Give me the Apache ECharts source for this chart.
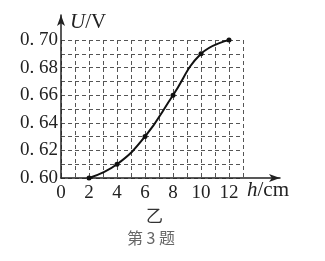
<!DOCTYPE html>
<html><head><meta charset="utf-8">
<script src="https://cdn.jsdelivr.net/npm/echarts@6/dist/echarts.min.js"></script>
<style>html,body{margin:0;padding:0;background:#fff;}#c{width:325px;height:261px;}</style>
</head><body><div id="c"></div>
<script>
var hValues = [2, 4, 6, 8, 10, 12];
var uValues = [0.60, 0.61, 0.63, 0.66, 0.69, 0.70];
var xTickLabels = ['0', '2', '4', '6', '8', '10', '12'];
var yTickLabels = ['0. 60', '0. 62', '0. 64', '0. 66', '0. 68', '0. 70'];
var xAxisName = 'h';
var xAxisUnit = '/cm';
var yAxisName = 'U';
var yAxisUnit = '/V';
var subLabel = '乙';
var caption = '第 3 题';

var serif = '"Liberation Serif", "DejaVu Serif", serif';
var chart = echarts.init(document.getElementById('c'));
var data = hValues.map(function (h, i) { return [h, uValues[i]]; });

chart.setOption({
  animation: false,
  backgroundColor: '#fff',
  grid: [
    { left: 61, top: 40, width: 182, height: 138 },
    { left: 61, top: 15, width: 219, height: 163 }
  ],
  xAxis: [
    {
      gridIndex: 0, type: 'value', min: 0, max: 13, interval: 1,
      axisLine: { show: false }, axisTick: { show: false },
      splitLine: { show: true, lineStyle: { color: '#555', type: [4, 3], width: 1 } },
      axisLabel: {
        margin: 6, color: '#222', fontFamily: serif, fontSize: 19,
        formatter: function (v) {
          var k = Math.round(v);
          if (k % 2 !== 0) return '';
          return xTickLabels[k / 2] || '';
        }
      }
    },
    {
      gridIndex: 1, type: 'value', min: 0, max: 15.64,
      axisLine: { show: true, symbol: ['none', 'arrow'], symbolSize: [6, 11], lineStyle: { color: '#222', width: 1.5 } },
      axisTick: { show: false }, axisLabel: { show: false }, splitLine: { show: false }
    }
  ],
  yAxis: [
    {
      gridIndex: 0, type: 'value', min: 0.6, max: 0.7, interval: 0.01,
      axisLine: { show: false }, axisTick: { show: false },
      splitLine: { show: true, lineStyle: { color: '#555', type: [4, 3], width: 1 } },
      axisLabel: {
        margin: 3, color: '#222', fontFamily: serif, fontSize: 19,
        formatter: function (v) {
          var k = Math.round((v - 0.6) * 100);
          if (k % 2 !== 0) return '';
          return yTickLabels[k / 2] || '';
        }
      }
    },
    {
      gridIndex: 1, type: 'value', min: 0.6, max: 0.718,
      axisLine: { show: true, symbol: ['none', 'arrow'], symbolSize: [6, 11], lineStyle: { color: '#222', width: 1.5 } },
      axisTick: { show: false }, axisLabel: { show: false }, splitLine: { show: false }
    }
  ],
  series: [{
    type: 'line', xAxisIndex: 0, yAxisIndex: 0,
    data: data, smooth: 0.45,
    symbol: 'circle', symbolSize: 5,
    itemStyle: { color: '#111' },
    lineStyle: { color: '#111', width: 2 }
  }],
  graphic: [
    { type: 'text', left: 70, top: 12, style: { text: '{i|' + yAxisName + '}{r|' + yAxisUnit + '}', rich: { i: { fontStyle: 'italic', fontFamily: serif, fontSize: 21, fill: '#222' }, r: { fontFamily: serif, fontSize: 21, fill: '#222' } } } },
    { type: 'text', left: 247, top: 180, style: { text: '{i|' + xAxisName + '}{r|' + xAxisUnit + '}', rich: { i: { fontStyle: 'italic', fontFamily: serif, fontSize: 21, fill: '#222' }, r: { fontFamily: serif, fontSize: 21, fill: '#222' } } } },
    { type: 'text', left: 146, top: 207, style: { text: subLabel, font: '17px "Noto Sans CJK SC"', fill: '#333' } },
    { type: 'text', left: 127, top: 230, style: { text: caption, font: '16px "Noto Sans CJK SC"', fill: '#666' } }
  ]
});
</script></body></html>
